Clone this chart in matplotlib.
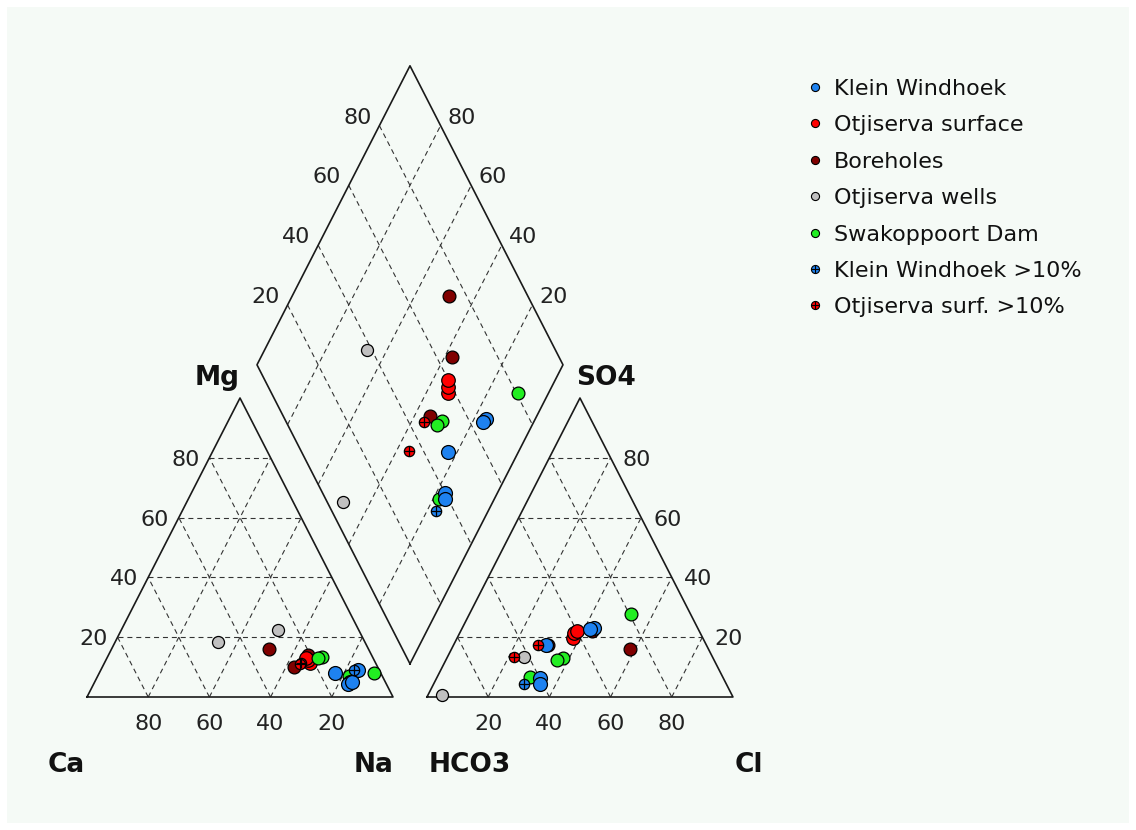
import numpy as np
import matplotlib
matplotlib.use('Agg')
import matplotlib.pyplot as plt
from matplotlib.patches import Rectangle

# Series shown in the legend (legend order)
series_names = ['Klein Windhoek', 'Otjiserva surface', 'Boreholes', 'Otjiserva wells',
                'Swakoppoort Dam', 'Klein Windhoek >10%', 'Otjiserva surf. >10%']
series_colors = ['#1e82f0', '#ff0000', '#800000', '#c0c0c0', '#22ee22', '#1e82f0', '#ff0000']

# Samples, percent of meq
group = [0, 0, 0, 0, 0, 1, 1, 1, 2, 2, 2, 3, 3, 4, 4, 4, 4, 5, 6, 6]
mg = [9.0, 5.0, 8.0, 4.5, 5.0, 11.4, 12.5, 13.0, 16.1, 10.0, 14.0, 18.4, 22.4,
      13.4, 13.0, 8.0, 7.0, 9.0, 11.4, 11.0]
na = [84.0, 83.5, 77.0, 83.0, 84.0, 67.2, 66.0, 65.0, 51.4, 62.5, 65.2, 33.6, 51.2,
      70.0, 69.0, 89.8, 82.0, 82.8, 64.3, 64.0]
so4 = [23.1, 22.7, 17.4, 6.4, 4.3, 19.7, 21.4, 22.0, 16.1, 22.0, 17.4, 13.4, 0.7,
       13.0, 12.4, 27.8, 6.7, 4.3, 17.4, 13.4]
cl = [42.9, 41.8, 30.3, 33.8, 34.8, 38.0, 37.2, 38.0, 58.2, 43.0, 30.8, 25.1, 4.6,
      38.1, 36.4, 52.7, 30.4, 29.6, 27.7, 21.8]

ticks = [20, 40, 60, 80]

# layout (pixels of the 1136x830 picture)
W, H = 1136, 830
SIDE_PX, HEIGHT_PX = 306, 299
ORIGIN = (87, 697)
GAP = 0.111          # gap between the two triangles, in side units
X_RIGHT = 1 + GAP    # left vertex of the anion triangle

sizes = [100, 95, 85, 75, 85, 55, 55]
crosses = [False, False, False, False, False, True, True]
draw_order = [2, 3, 1, 4, 0, 5, 6]

EDGE = dict(color='#1a1a1a', lw=1.2, zorder=2)
GRID = dict(color='#333333', lw=0.8, ls=(0, (4.5, 3.5)), zorder=1)
TICK_FONT = dict(fontsize=16, color='#222222', family='DejaVu Sans')
AXIS_FONT = dict(fontsize=19, color='#111111', family='DejaVu Sans', fontweight='bold')


def px(v):
    # pixel offset -> points
    return v * 72.0 / 100.0


def tern(right, top, x0=0.0):
    # right/top given as fractions; returns x in side units, y in height units
    return x0 + right + top / 2.0, top


def diamond(u, v):
    # u = (Cl+SO4) fraction, v = Na fraction
    return 0.5 + GAP / 2 + (u + v) / 2.0, 1 + GAP + u - v


fig = plt.figure(figsize=(W / 100, H / 100), dpi=100)
fig.patch.set_facecolor('white')
ax = fig.add_axes([0, 0, 1, 1])
ax.set_xlim(-ORIGIN[0] / SIDE_PX, (W - ORIGIN[0]) / SIDE_PX)
ax.set_ylim((ORIGIN[1] - H) / HEIGHT_PX, ORIGIN[1] / HEIGHT_PX)
ax.axis('off')
ax.add_patch(Rectangle((7 / W, 7 / H), 1122 / W, 816 / H, transform=ax.transAxes,
                       facecolor='#f5faf6', edgecolor='none', zorder=0))

# --- frames ---
for x0 in (0.0, X_RIGHT):
    ax.plot([x0, x0 + 1, x0 + 0.5, x0], [0, 0, 1, 0], **EDGE)
    for t in np.array(ticks) / 100.0:
        a = tern(0, t, x0); b = tern(1 - t, t, x0)
        ax.plot([a[0], b[0]], [a[1], b[1]], **GRID)
        a = tern(t, 0, x0); b = tern(t, 1 - t, x0)
        ax.plot([a[0], b[0]], [a[1], b[1]], **GRID)
        a = tern(1 - t, 0, x0); b = tern(0, 1 - t, x0)
        ax.plot([a[0], b[0]], [a[1], b[1]], **GRID)

corners = [diamond(0, 1), diamond(0, 0), diamond(1, 0), diamond(1, 1), diamond(0, 1)]
ax.plot([c[0] for c in corners], [c[1] for c in corners], **EDGE)
for t in np.array(ticks) / 100.0:
    a = diamond(0, t); b = diamond(1, t)
    ax.plot([a[0], b[0]], [a[1], b[1]], **GRID)
    a = diamond(t, 0); b = diamond(t, 1)
    ax.plot([a[0], b[0]], [a[1], b[1]], **GRID)

# --- tick labels ---
for v in ticks:
    t = v / 100.0
    # Mg on left edge of cation triangle
    ax.annotate(str(v), tern(0, t), xytext=(px(-10), px(-8)), textcoords='offset points',
                ha='right', va='baseline', **TICK_FONT)
    # Ca along the base (Ca = 100 at left)
    ax.annotate(str(v), tern(1 - t, 0), xytext=(0, px(-33)), textcoords='offset points',
                ha='center', va='baseline', **TICK_FONT)
    # Cl along the base of anion triangle
    ax.annotate(str(v), tern(t, 0, X_RIGHT), xytext=(0, px(-33)), textcoords='offset points',
                ha='center', va='baseline', **TICK_FONT)
    # SO4 on right edge of anion triangle
    ax.annotate(str(v), tern(1 - t, t, X_RIGHT), xytext=(px(12), px(-8)),
                textcoords='offset points', ha='left', va='baseline', **TICK_FONT)
    # diamond: Cl+SO4 on upper left, Ca+Mg on upper right
    ax.annotate(str(v), diamond(t, 0), xytext=(px(-8), px(2)), textcoords='offset points',
                ha='right', va='baseline', **TICK_FONT)
    ax.annotate(str(v), diamond(1, 1 - t), xytext=(px(7), px(2)), textcoords='offset points',
                ha='left', va='baseline', **TICK_FONT)

# --- axis names ---
ax.annotate('Ca', (0, 0), xytext=(px(-21), px(-75)), textcoords='offset points',
            ha='center', va='baseline', **AXIS_FONT)
ax.annotate('Na', (1, 0), xytext=(px(-19), px(-75)), textcoords='offset points',
            ha='center', va='baseline', **AXIS_FONT)
ax.annotate('Mg', (0.5, 1), xytext=(px(-23), px(13)), textcoords='offset points',
            ha='center', va='baseline', **AXIS_FONT)
ax.annotate('HCO3', (X_RIGHT, 0), xytext=(px(43), px(-75)), textcoords='offset points',
            ha='center', va='baseline', **AXIS_FONT)
ax.annotate('Cl', (X_RIGHT + 1, 0), xytext=(px(16), px(-75)), textcoords='offset points',
            ha='center', va='baseline', **AXIS_FONT)
ax.annotate('SO4', (X_RIGHT + 0.5, 1), xytext=(px(26), px(13)), textcoords='offset points',
            ha='center', va='baseline', **AXIS_FONT)

# --- samples ---
group = np.array(group)
mg, na, so4, cl = (np.array(a) / 100.0 for a in (mg, na, so4, cl))
cat_x, cat_y = tern(na, mg)
an_x, an_y = tern(cl, so4, X_RIGHT)
dm_x, dm_y = diamond(cl + so4, na)

for i in draw_order:
    sel = group == i
    for xs, ys in ((cat_x, cat_y), (an_x, an_y), (dm_x, dm_y)):
        ax.scatter(xs[sel], ys[sel], s=sizes[i], c=series_colors[i], edgecolors='black',
                   linewidths=0.9, zorder=5)
        if crosses[i]:
            ax.scatter(xs[sel], ys[sel], s=sizes[i], marker='+', c='black',
                       linewidths=0.9, zorder=6)

# --- legend ---
for i, name in enumerate(series_names):
    yy = 1 - (87 + i * 36.4) / H
    ax.scatter([815 / W], [yy], s=34, c=series_colors[i], edgecolors='black',
               linewidths=0.8, transform=ax.transAxes, zorder=5)
    if crosses[i]:
        ax.scatter([815 / W], [yy], s=34, marker='+', c='black', linewidths=0.8,
                   transform=ax.transAxes, zorder=6)
    ax.text(834 / W, yy, name, transform=ax.transAxes, ha='left', va='center_baseline',
            fontsize=16, color='#111111', family='DejaVu Sans')

fig.savefig('out.png', dpi=100, facecolor=fig.get_facecolor())
